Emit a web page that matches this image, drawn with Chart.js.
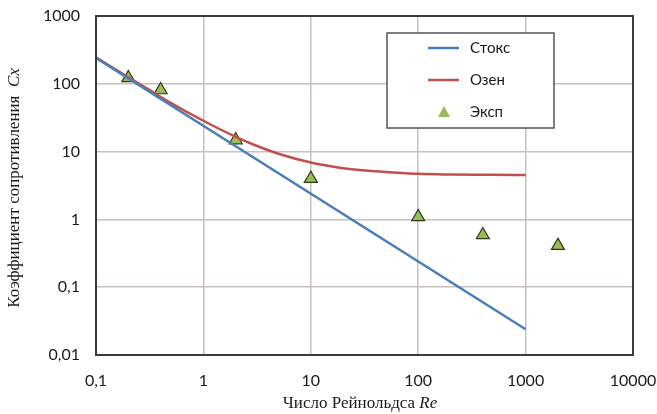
<!DOCTYPE html>
<html lang="ru">
<head>
<meta charset="utf-8">
<script src="https://cdn.jsdelivr.net/npm/chart.js@4.4.1/dist/chart.umd.min.js"></script>
<style>
  html, body { margin: 0; padding: 0; background: #fff; overflow: hidden; }
  #wrap { width: 657px; height: 414px; position: relative; }
</style>
</head>
<body>
<div id="wrap"><canvas id="grafico" width="657" height="414"></canvas></div>
<script>
// данные
const stoksRe = [0.1, 1000];
const stoksCx = [240, 0.024];

const ozenRe = [0.1, 0.2, 0.3, 0.5, 1, 2, 3, 5, 10, 20, 30, 50, 100, 200, 500, 1000];
const ozenCx = [245, 125, 85, 52, 28.5, 16.5, 12.5, 9.3, 6.9, 5.7, 5.3, 5.0, 4.7, 4.6, 4.55, 4.5];

const expRe = [0.2, 0.4, 2, 10, 100, 400, 2000];
const expCx = [122, 81, 14.8, 4.0, 1.09, 0.59, 0.41];

const xTicks = [0.1, 1, 10, 100, 1000, 10000];
const xTickLabels = ["0,1", "1", "10", "100", "1000", "10000"];
const yTicks = [0.01, 0.1, 1, 10, 100, 1000];
const yTickLabels = ["0,01", "0,1", "1", "10", "100", "1000"];

const seriesNames = ["Стокс", "Озен", "Эксп"];

const cores = {
  stoks: "#4a7ebb",
  ozen: "#c0504d",
  exp: "#9bbb59",
  expBorda: "#2f3a1a",
  grade: "#c9bfbb",
  moldura: "#3a3a3a",
  texto: "#1a1a1a"
};

const pares = (xs, ys) => xs.map((x, i) => ({ x, y: ys[i] }));

// рамка области построения, подписи осей и легенда
const extras = {
  id: "extras",
  afterDraw(chart) {
    const { ctx, chartArea: a } = chart;
    ctx.save();
    ctx.strokeStyle = cores.moldura;
    ctx.lineWidth = 2;
    ctx.strokeRect(a.left, a.top, a.right - a.left, a.bottom - a.top);

    // подпись оси X
    ctx.fillStyle = cores.texto;
    ctx.textBaseline = "middle";
    const fontN = "17px 'Liberation Serif', 'DejaVu Serif', serif";
    const fontI = "italic 17px 'Liberation Serif', 'DejaVu Serif', serif";
    const p1 = "Число Рейнольдса ", p2 = "Re";
    ctx.font = fontN; const w1 = ctx.measureText(p1).width;
    ctx.font = fontI; const w2 = ctx.measureText(p2).width;
    let x0 = 360 - (w1 + w2) / 2;
    ctx.font = fontN; ctx.textAlign = "left"; ctx.fillText(p1, x0, 404);
    ctx.font = fontI; ctx.fillText(p2, x0 + w1, 404);

    // подпись оси Y
    ctx.translate(15, 188);
    ctx.rotate(-Math.PI / 2);
    const q1 = "Коэффициент сопротивления  ", q2 = "Cx";
    ctx.font = fontN; const v1 = ctx.measureText(q1).width;
    ctx.font = fontI; const v2 = ctx.measureText(q2).width;
    x0 = -(v1 + v2) / 2;
    ctx.font = fontN; ctx.fillText(q1, x0, 0);
    ctx.font = fontI; ctx.fillText(q2, x0 + v1, 0);
    ctx.setTransform(1, 0, 0, 1, 0, 0);

    // легенда
    const lx = 387, ly = 33, lw = 167, lh = 95;
    ctx.fillStyle = "#fff";
    ctx.fillRect(lx, ly, lw, lh);
    ctx.strokeStyle = "#555";
    ctx.lineWidth = 1.5;
    ctx.strokeRect(lx, ly, lw, lh);
    ctx.font = "15px Lato, 'Open Sans', sans-serif";
    ctx.textAlign = "left";
    chart.data.datasets.forEach((ds, i) => {
      const y = 48 + i * 32;
      if (ds.showLine === false) {
        ctx.beginPath();
        ctx.moveTo(444, y - 6);
        ctx.lineTo(450, y + 5);
        ctx.lineTo(438, y + 5);
        ctx.closePath();
        ctx.fillStyle = ds.pointBackgroundColor;
        ctx.fill();
      } else {
        ctx.strokeStyle = ds.borderColor;
        ctx.lineWidth = 2.5;
        ctx.beginPath();
        ctx.moveTo(428, y);
        ctx.lineTo(459, y);
        ctx.stroke();
      }
      ctx.fillStyle = cores.texto;
      ctx.fillText(ds.label, 470, y);
    });
    ctx.restore();
  }
};

new Chart(document.getElementById("grafico"), {
  type: "scatter",
  data: {
    datasets: [
      {
        label: seriesNames[0],
        data: pares(stoksRe, stoksCx),
        showLine: true,
        borderColor: cores.stoks,
        borderWidth: 2.5,
        pointRadius: 0
      },
      {
        label: seriesNames[1],
        data: pares(ozenRe, ozenCx),
        showLine: true,
        borderColor: cores.ozen,
        borderWidth: 2.5,
        cubicInterpolationMode: "monotone",
        pointRadius: 0
      },
      {
        label: seriesNames[2],
        data: pares(expRe, expCx),
        showLine: false,
        pointStyle: "triangle",
        pointRadius: 7.5,
        pointBackgroundColor: cores.exp,
        pointBorderColor: cores.expBorda,
        pointBorderWidth: 1.2
      }
    ]
  },
  options: {
    responsive: false,
    animation: false,
    devicePixelRatio: 1,
    layout: { padding: { top: 16, right: 24, bottom: 0, left: 0 } },
    plugins: { legend: { display: false }, tooltip: { enabled: false } },
    scales: {
      x: {
        type: "logarithmic",
        min: 0.1,
        max: 10000,
        afterBuildTicks: s => { s.ticks = xTicks.map(v => ({ value: v })); },
        afterFit: s => { s.height = 59; s.paddingLeft = 0; s.paddingRight = 0; },
        grid: { color: cores.grade, lineWidth: 1.5, drawTicks: false },
        border: { display: false },
        ticks: {
          autoSkip: false,
          maxRotation: 0,
          padding: 16,
          color: cores.texto,
          font: { family: "Lato, 'Open Sans', sans-serif", size: 16 },
          callback: (v, i) => xTickLabels[i]
        }
      },
      y: {
        type: "logarithmic",
        min: 0.01,
        max: 1000,
        afterBuildTicks: s => { s.ticks = yTicks.map(v => ({ value: v })); },
        afterFit: s => { s.width = 96; s.paddingTop = 0; s.paddingBottom = 0; },
        grid: { color: cores.grade, lineWidth: 1.5, drawTicks: false },
        border: { display: false },
        ticks: {
          autoSkip: false,
          padding: 16,
          color: cores.texto,
          font: { family: "Lato, 'Open Sans', sans-serif", size: 16 },
          callback: (v, i) => yTickLabels[i]
        }
      }
    }
  },
  plugins: [extras]
});
</script>
</body>
</html>
